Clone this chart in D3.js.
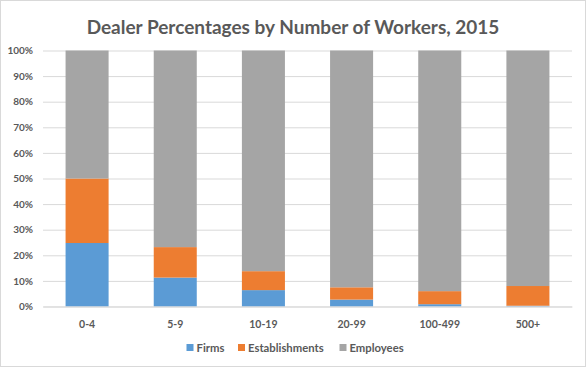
<!DOCTYPE html>
<html><head><meta charset="utf-8">
<script src="https://cdn.jsdelivr.net/npm/d3@7/dist/d3.min.js"></script>
<style>body{margin:0;background:#fff;}svg{display:block;}</style>
</head><body>
<svg id="c" width="586" height="367"></svg>
<script>
const categories = ["0-4","5-9","10-19","20-99","100-499","500+"];
const seriesNames = ["Firms","Establishments","Employees"];
const firms = [24.8, 11.3, 6.4, 2.7, 0.9, 0.3];
const establishments = [25.2, 11.9, 7.4, 4.8, 5.1, 7.7];
const employees = [50.0, 76.8, 86.2, 92.5, 94.0, 92.0];
const yTicks = [0,10,20,30,40,50,60,70,80,90,100];
const colors = ["#5B9BD5","#ED7D31","#A5A5A5"];
const title = "Dealer Percentages by Number of Workers, 2015";

const rows = categories.map((c,i)=>({cat:c, Firms:firms[i], Establishments:establishments[i], Employees:employees[i]}));
const stack = d3.stack().keys(seriesNames).offset(d3.stackOffsetExpand)(rows);

const svg = d3.select("#c");
const W=586,H=367;
svg.append("rect").attr("x",0.5).attr("y",0.5).attr("width",W-1).attr("height",H-1)
  .attr("fill","#fff").attr("stroke","#d9d9d9");

const m = {l:43, r:14, t:50.5, b:60.5};
const x = d3.scaleBand().domain(categories).range([m.l, W-m.r]).paddingInner(0.512).paddingOuter(0.256);
const y = d3.scaleLinear().domain([0,1]).range([H-m.b, m.t]);

const font = "Lato, 'Open Sans', sans-serif";
svg.append("text").attr("x",293).attr("y",34).attr("text-anchor","middle")
  .attr("font-family",font).attr("font-weight",700).attr("font-size",19).attr("fill","#595959").text(title);

const yAxis = d3.axisLeft(y).tickValues(yTicks.map(v=>v/100)).tickFormat(d=>Math.round(d*100)+"%").tickSize(-(W-m.r-m.l)).tickPadding(10);
const gy = svg.append("g").attr("transform",`translate(${m.l},0)`).call(yAxis);
gy.select(".domain").remove();
gy.selectAll("line").attr("stroke","#d9d9d9");
gy.selectAll("text").attr("font-family",font).attr("font-weight",700).attr("font-size",10).attr("fill","#595959");

svg.append("g").selectAll("g").data(stack).join("g").attr("fill",(d,i)=>colors[i])
  .selectAll("rect").data(d=>d).join("rect")
  .attr("x",d=>x(d.data.cat)).attr("width",x.bandwidth())
  .attr("y",d=>y(d[1])).attr("height",d=>y(d[0])-y(d[1]));

const xAxis = d3.axisBottom(x).tickSize(0).tickPadding(14);
const gx = svg.append("g").attr("transform",`translate(0,${H-m.b})`).call(xAxis);
gx.select(".domain").attr("stroke","#d9d9d9");
gx.selectAll("text").attr("font-family",font).attr("font-weight",700).attr("font-size",10.5).attr("fill","#595959");

const legX = [186.5, 238, 339.5];
const lg = svg.append("g");
seriesNames.forEach((s,i)=>{
  lg.append("rect").attr("x",legX[i]).attr("y",344).attr("width",7).attr("height",7).attr("fill",colors[i]);
  lg.append("text").attr("x",legX[i]+10).attr("y",351.5).attr("font-family",font).attr("font-weight",700)
    .attr("font-size",11.3).attr("fill","#595959").text(s);
});
</script>
</body></html>
